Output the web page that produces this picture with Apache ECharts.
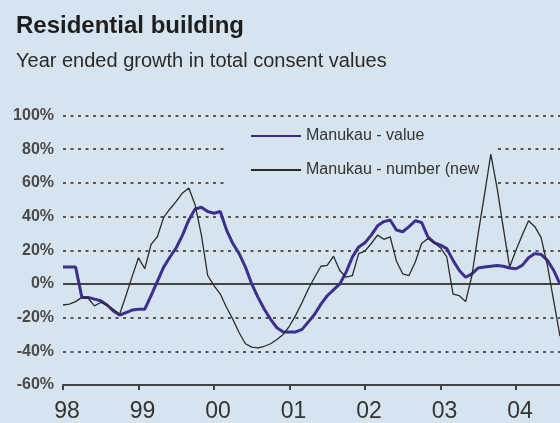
<!DOCTYPE html>
<html>
<head>
<meta charset="utf-8">
<script src="https://cdn.jsdelivr.net/npm/echarts@6/dist/echarts.min.js"></script>
<style>
html,body{margin:0;padding:0;background:#d5e4ee;}
#chart{width:560px;height:423px;}
</style>
</head>
<body>
<div id="chart"></div>
<script>
// Tick labels (years) and months
var years = ['98', '99', '00', '01', '02', '03', '04'];
var months = ['01','02','03','04','05','06','07','08','09','10','11','12'];
var yTicks = [-60, -40, -20, 0, 20, 40, 60, 80, 100];

// Series values (year-ended % growth, monthly from Jan 1998; chart is cut at Aug 2004)
var manukauValue = [
  10, 10, 10, -8, -8, -9, -10, -12.5, -16, -18.5, -17, -15.5,
  -15, -15, -7, 1.5, 10, 16, 21.5, 29, 38, 44.5, 45.5, 43,
  42, 43, 32, 24, 18, 10, 0, -8, -15, -21, -26, -28.5,
  -28.5, -28.5, -27, -22.5, -18, -12, -7, -3.5, 0, 7, 16, 22,
  24.5, 29, 34.5, 37, 38, 32, 31, 34, 37.5, 36.5, 28, 24.5,
  23, 21, 14, 8, 4, 6, 9.5, 10, 10.5, 11, 10.5, 9.5,
  9, 11, 15.5, 18, 17.5, 14, 8, 0
];
var manukauNumber = [
  -12.5, -12, -10.5, -8, -8.5, -13, -11, -12.5, -15, -18, -7, 4.5,
  15.5, 9, 23.5, 28, 39.5, 44.5, 49, 54, 57, 47, 29, 5,
  -1, -6, -14, -21, -29, -35.5, -37.5, -38, -37, -35.5, -33, -30,
  -25, -18.5, -11, -3, 4, 10.5, 11, 16.5, 8, 4, 5, 18,
  19.5, 24, 29, 26.5, 28, 13.5, 6, 5, 13, 24, 27, 24.5,
  21.5, 16, -6, -7, -10.5, 5, 30, 53, 77, 57, 33, 10,
  20, 29, 37.5, 34, 27.5, 11, -10, -31
];

var categories = [];
years.forEach(function (y) { months.forEach(function (m) { categories.push(y + '-' + m); }); });
categories = categories.slice(0, manukauValue.length);

var chart = echarts.init(document.getElementById('chart'));
chart.setOption({
  backgroundColor: '#d5e4ee',
  animation: false,
  title: [
    { text: 'Residential building', left: 11, top: 9,
      textStyle: { fontFamily: 'Liberation Sans', fontSize: 24, fontWeight: 'bold', color: '#1e1e1e' } },
    { text: 'Year ended growth in total consent values', left: 11, top: 46,
      textStyle: { fontFamily: 'Liberation Sans', fontSize: 20, fontWeight: 'normal', color: '#2a2a2a' } }
  ],
  legend: {
    orient: 'vertical',
    left: 224, top: 120,
    padding: [8, 18, 8, 26],
    backgroundColor: '#d5e4ee',
    itemWidth: 50, itemHeight: 14, itemGap: 18,
    itemStyle: { opacity: 0 },
    textStyle: { fontFamily: 'Liberation Sans', fontSize: 16, color: '#333' },
    data: ['Manukau - value', 'Manukau - number (new']
  },
  grid: { left: 63, right: 0, top: 115.5, bottom: 37, containLabel: false },
  xAxis: {
    type: 'category',
    data: categories,
    boundaryGap: false,
    axisLine: { show: true, onZero: false, lineStyle: { color: '#444', width: 2 } },
    axisTick: { show: true, length: 5, inside: false, interval: function (i) { return i % 12 === 0; },
      lineStyle: { color: '#444', width: 2 } },
    axisLabel: { interval: function (i) { return i % 12 === 0; }, margin: 15, padding: [0, 0, 0, 8],
      formatter: function (v) { return v.split('-')[0]; },
      fontFamily: 'Liberation Sans', fontSize: 23, color: '#333' },
    splitLine: { show: false }
  },
  yAxis: {
    type: 'value',
    min: yTicks[0], max: yTicks[yTicks.length - 1], interval: 20,
    axisLine: { show: false },
    axisTick: { show: false },
    axisLabel: { formatter: '{value}%', margin: 9, fontFamily: 'Liberation Sans', fontSize: 16,
      fontWeight: 'bold', color: '#4a4a4a' },
    splitLine: { show: true, lineStyle: { color: '#555', width: 2, type: [3, 4.5] } }
  },
  series: [
    {
      name: 'Manukau - value', type: 'line', data: manukauValue,
      symbol: 'none', z: 5,
      lineStyle: { color: '#3c2f8e', width: 3 },
      itemStyle: { color: '#3c2f8e' },
      markLine: {
        silent: true, symbol: 'none', label: { show: false },
        lineStyle: { color: '#444', width: 2, type: 'solid' },
        data: [{ yAxis: 0 }]
      }
    },
    {
      name: 'Manukau - number (new', type: 'line', data: manukauNumber,
      symbol: 'none', z: 5,
      lineStyle: { color: '#2b2b2b', width: 1.3 },
      itemStyle: { color: '#2b2b2b' }
    }
  ]
});
</script>
</body>
</html>
